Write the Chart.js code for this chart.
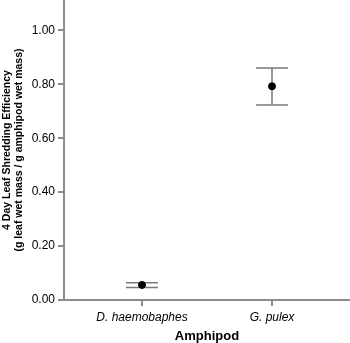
<!DOCTYPE html>
<html>
<head>
<meta charset="utf-8">
<script src="https://cdn.jsdelivr.net/npm/chart.js@4/dist/chart.umd.min.js"></script>
<style>
  html, body { margin: 0; padding: 0; background: #fff; }
  #wrap { width: 350px; height: 343px; }
</style>
</head>
<body>
<div id="wrap"><canvas id="grafica"></canvas></div>
<script>
// datos
const especies = ['D. haemobaphes', 'G. pulex'];
const medias = [0.056, 0.793];
const errSup = [0.064, 0.861];
const errInf = [0.046, 0.723];
const marcasY = [0, 0.2, 0.4, 0.6, 0.8, 1.0];

const gris = '#8c8c8c';

// barras de error dibujadas con las escalas del grafico
const barrasError = {
    id: 'barrasError',
    beforeDatasetsDraw(chart) {
        const ctx = chart.ctx;
        const x = chart.scales.x, y = chart.scales.y;
        ctx.save();
        ctx.strokeStyle = '#7a7a7a';
        ctx.lineWidth = 1.5;
        for (let i = 0; i < medias.length; i++) {
            const px = x.getPixelForValue(i);
            const yS = y.getPixelForValue(errSup[i]);
            const yI = y.getPixelForValue(errInf[i]);
            const w = 16;
            ctx.beginPath();
            ctx.moveTo(px, yS); ctx.lineTo(px, yI);
            ctx.moveTo(px - w, yS); ctx.lineTo(px + w, yS);
            ctx.moveTo(px - w, yI); ctx.lineTo(px + w, yI);
            ctx.stroke();
        }
        ctx.restore();
    }
};

new Chart(document.querySelector('#grafica'), {
    type: 'scatter',
    data: {
        datasets: [{
            data: medias.map((v, i) => ({ x: i, y: v })),
            backgroundColor: '#000',
            borderColor: '#000',
            pointRadius: 3.5,
            pointHoverRadius: 3.5
        }]
    },
    options: {
        responsive: true,
        maintainAspectRatio: false,
        animation: false,
        layout: { autoPadding: false, padding: { top: 0, right: 0, left: 0, bottom: -1 } },
        plugins: {
            legend: { display: false },
            tooltip: { enabled: false }
        },
        scales: {
            x: {
                type: 'linear',
                min: -0.6,
                max: 1.6,
                afterBuildTicks: (s) => { s.ticks = especies.map((e, i) => ({ value: i })); },
                afterFit: (s) => { s.paddingLeft = 0; s.paddingRight = 0; },
                ticks: {
                    callback: (v) => especies[v],
                    color: '#000',
                    font: { family: 'Liberation Sans', size: 12, style: 'italic' },
                    padding: 4,
                    maxRotation: 0
                },
                grid: { drawOnChartArea: false, tickLength: 6, color: gris, lineWidth: 2 },
                border: { color: gris, width: 2 },
                title: {
                    display: true,
                    text: 'Amphipod',
                    color: '#000',
                    font: { family: 'Liberation Sans', size: 13, weight: 'bold' },
                    padding: { top: 0, bottom: 0 }
                }
            },
            y: {
                min: 0,
                max: 1.113,
                afterBuildTicks: (s) => { s.ticks = marcasY.map(v => ({ value: v })); },
                afterFit: (s) => { s.width = 64; s.paddingTop = 0; s.paddingBottom = 0; },
                ticks: {
                    callback: (v) => v.toFixed(2),
                    color: '#000',
                    font: { family: 'Liberation Sans', size: 12 },
                    padding: 3
                },
                grid: { drawOnChartArea: false, tickLength: 6, color: gris, lineWidth: 2 },
                border: { color: gris, width: 2 },
                title: {
                    display: true,
                    text: ['4 Day Leaf Shredding Efficiency', '(g leaf wet mass / g amphipod wet mass)'],
                    color: '#000',
                    font: { family: 'Liberation Sans', size: 10.5, weight: 'bold', lineHeight: 1.15 },
                    padding: { top: 1, bottom: 0 }
                }
            }
        }
    },
    plugins: [barrasError]
});
</script>
</body>
</html>
